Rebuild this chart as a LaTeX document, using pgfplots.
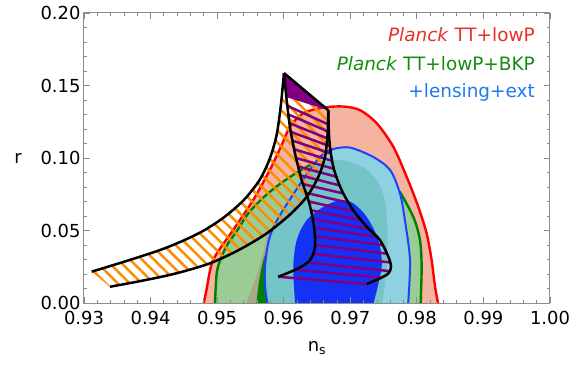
\documentclass[border=0pt]{standalone}
\usepackage{fontspec}
\setmainfont{DejaVu Sans}
\usepackage{pgfplots}
\pgfplotsset{compat=1.18}
\usetikzlibrary{patterns.meta}
\definecolor{salmon}{HTML}{F4B4A0}
\definecolor{lgreen}{HTML}{9BCC96}
\definecolor{greybrown}{HTML}{A8A888}
\definecolor{dgreen}{HTML}{008000}
\definecolor{lblue}{HTML}{8ED2E2}
\definecolor{teal2}{HTML}{74C4C8}
\definecolor{dblue}{HTML}{1432F5}
\definecolor{cred}{HTML}{FF0000}
\definecolor{cgreen}{HTML}{008000}
\definecolor{cblue}{HTML}{2040FF}
\definecolor{hpurple}{HTML}{800080}
\definecolor{horange}{HTML}{FF8C00}
\definecolor{framegrey}{HTML}{8C8C8C}
\definecolor{legred}{HTML}{E63228}
\definecolor{leggreen}{HTML}{148C14}
\definecolor{legblue}{HTML}{1E78F0}

\begin{document}
\begin{tikzpicture}
\path[use as bounding box] (-84bp,-67bp) rectangle (498bp,303bp);
\begin{axis}[
  scale only axis, width=466bp, height=290bp,
  xmin=0.93, xmax=1.00, ymin=0, ymax=0.20,
  xtick={0.93,0.94,0.95,0.96,0.97,0.98,0.99,1.00},
  xticklabels={0.93,0.94,0.95,0.96,0.97,0.98,0.99,1.00},
  ytick={0,0.05,0.10,0.15,0.20},
  yticklabels={0.00,0.05,0.10,0.15,0.20},
  minor x tick num=4, minor y tick num=4,
  tick align=inside, major tick length=6bp, minor tick length=3bp,
  every tick/.style={framegrey, line width=0.8bp},
  axis line style={framegrey, line width=1bp},
  tick label style={font=\fontsize{18}{20}\selectfont, text=black},
  xticklabel style={yshift=-5bp},
  xlabel={n\textsubscript{s}}, ylabel={r},
  every axis x label/.style={at={(axis description cs:0.5,-0.155)}, anchor=center,
    font=\fontsize{18}{20}\selectfont},
  every axis y label/.style={at={(axis description cs:-0.1416,0.5)}, anchor=center,
    font=\fontsize{18}{20}\selectfont},
  axis on top, no markers, unbounded coords=jump,
]
% Planck TT+lowP, 95%
\addplot[fill=salmon, draw=none, smooth] coordinates {
  (0.9480,0) (0.9484,0.009) (0.9494,0.0296) (0.9524,0.0503) (0.9554,0.0709)
  (0.9579,0.0916) (0.9596,0.108) (0.9610,0.122) (0.9630,0.131) (0.9660,0.1348)
  (0.9690,0.1355) (0.9715,0.1329) (0.9740,0.1238) (0.97647,0.1077) (0.97847,0.0870)
  (0.98022,0.0663) (0.98147,0.0480) (0.98222,0.0296) (0.98273,0.0113) (0.98318,0)};
% +BKP, 95%
\addplot[fill=lgreen, draw=none, smooth] coordinates {
  (0.94968,0) (0.94993,0.0204) (0.9505,0.030) (0.9515,0.040) (0.9530,0.050)
  (0.9547,0.062) (0.9570,0.073) (0.9594,0.082) (0.9620,0.090) (0.9645,0.0965)
  (0.9689,0.0985) (0.9725,0.094) (0.9755,0.0824) (0.97797,0.0755) (0.97947,0.0594)
  (0.98047,0.0434) (0.98072,0.025) (0.98057,0)};
% TT+lowP, 68%
\addplot[fill=greybrown, draw=none, smooth] coordinates {
  (0.9544,0) (0.9552,0.010) (0.9560,0.020) (0.9569,0.034) (0.9580,0.050)
  (0.9620,0.060) (0.9650,0.060) (0.9650,0)};
% +BKP, 68%
\addplot[fill=dgreen, draw=none, smooth] coordinates {
  (0.9559,0) (0.9563,0.015) (0.9568,0.027) (0.9575,0.037) (0.9590,0.050)
  (0.9630,0.055) (0.9650,0.040) (0.9650,0)};
% +lensing+ext, 95%
\addplot[fill=lblue, draw=none, smooth] coordinates {
  (0.95754,0) (0.9572,0.012) (0.9572,0.025) (0.9575,0.037) (0.9580,0.047)
  (0.9591,0.058) (0.9608,0.0705) (0.96245,0.082) (0.9645,0.0955) (0.9660,0.1030)
  (0.96745,0.1062) (0.96996,0.1072) (0.97346,0.1007) (0.9760,0.0916) (0.97747,0.0755)
  (0.9782,0.0572) (0.97897,0.0296) (0.9787,0)};
\addplot[fill=teal2, draw=none, smooth] coordinates {
  (0.95754,0) (0.9572,0.012) (0.9572,0.025) (0.9575,0.037) (0.9580,0.047)
  (0.9591,0.058) (0.9608,0.0705) (0.96245,0.082) (0.9640,0.092) (0.9665,0.0975)
  (0.9689,0.0985) (0.9722,0.093) (0.9742,0.083) (0.9752,0.070) (0.9756,0.050)
  (0.9755,0.025) (0.9748,0)};
% +lensing+ext, 68%
\addplot[fill=dblue, draw=none, smooth] coordinates {
  (0.96170,0) (0.96144,0.025) (0.96195,0.0434) (0.96345,0.0572) (0.96595,0.0663)
  (0.96846,0.0709) (0.97046,0.0687) (0.97247,0.0594) (0.97421,0.0434)
  (0.97472,0.025) (0.9735,0)};
% contour lines
\addplot[cred, line width=2.4bp, smooth] coordinates {
  (0.9480,0) (0.9484,0.009) (0.9494,0.0296) (0.9524,0.0503) (0.9554,0.0709)
  (0.9579,0.0916) (0.9596,0.108) (0.9610,0.122) (0.9630,0.131) (0.9660,0.1348)
  (0.9690,0.1355) (0.9715,0.1329) (0.9740,0.1238) (0.97647,0.1077) (0.97847,0.0870)
  (0.98022,0.0663) (0.98147,0.0480) (0.98222,0.0296) (0.98273,0.0113) (0.98318,0)};
\addplot[cgreen, line width=2.4bp, smooth] coordinates {
  (0.94968,0) (0.94993,0.0204) (0.9505,0.030) (0.9515,0.040) (0.9530,0.050)
  (0.9547,0.062) (0.9570,0.073) (0.9594,0.082) (0.9620,0.090) (0.9645,0.0965)};
\addplot[cgreen, line width=2.4bp, smooth] coordinates {
  (0.9774,0.0770) (0.97947,0.0594) (0.98047,0.0434) (0.98072,0.025) (0.98057,0)};
\addplot[cblue, line width=2bp, smooth] coordinates {
  (0.95754,0) (0.9572,0.012) (0.9572,0.025) (0.9575,0.037) (0.9580,0.047)
  (0.9591,0.058) (0.9608,0.0705) (0.96245,0.082) (0.9645,0.0955) (0.9660,0.1030)
  (0.96745,0.1062) (0.96996,0.1072) (0.97346,0.1007) (0.9760,0.0916) (0.97747,0.0755)
  (0.9782,0.0572) (0.97897,0.0296) (0.9787,0)};
% orange hatched band
\addplot[draw=none, pattern={Lines[angle=-45,distance=8.5bp,line width=2.5bp]},
  pattern color=horange] coordinates {
  (0.93115,0.0216) (0.9364,0.0290) (0.9414,0.0365) (0.9450,0.0432) (0.9480,0.0500)
  (0.9510,0.0590) (0.9540,0.0710) (0.9564,0.0850) (0.95794,0.1000) (0.95894,0.1160)
  (0.95954,0.1352) (0.95984,0.1490) (0.96004,0.1586)
  (0.96670,0.1329) (0.96660,0.1169) (0.96620,0.1007) (0.96520,0.0870) (0.96345,0.0732)
  (0.96094,0.0610) (0.95744,0.0480) (0.95343,0.0370) (0.9490,0.0275) (0.9439,0.0205)
  (0.9389,0.0155) (0.9339,0.0112)};
% purple hatched region
\addplot[fill=hpurple, draw=none] coordinates {
  (0.96004,0.1586) (0.96670,0.1329) (0.96040,0.1420) (0.96025,0.1500)};
\addplot[hpurple, line width=2.5bp] coordinates {
  (0.96055,0.136) (0.96677,0.123) (nan,nan)
  (0.96071,0.130) (0.96681,0.118) (nan,nan)
  (0.96087,0.124) (0.96685,0.113) (nan,nan)
  (0.96108,0.118) (0.96699,0.108) (nan,nan)
  (0.96133,0.112) (0.96715,0.103) (nan,nan)
  (0.96158,0.106) (0.96732,0.098) (nan,nan)
  (0.96187,0.100) (0.96756,0.0925) (nan,nan)
  (0.96220,0.094) (0.96799,0.087) (nan,nan)
  (0.96252,0.088) (0.96846,0.081) (nan,nan)
  (0.96289,0.082) (0.96900,0.0755) (nan,nan)
  (0.96333,0.076) (0.96983,0.069) (nan,nan)
  (0.96376,0.070) (0.97064,0.063) (nan,nan)
  (0.96405,0.064) (0.97169,0.057) (nan,nan)
  (0.96432,0.058) (0.97282,0.051) (nan,nan)
  (0.96456,0.052) (0.97401,0.0455) (nan,nan)
  (0.96462,0.046) (0.97483,0.040) (nan,nan)
  (0.96469,0.040) (0.97549,0.034) (nan,nan)
  (0.96431,0.034) (0.97595,0.028) (nan,nan)
  (0.96346,0.028) (0.97586,0.022) (nan,nan)
  (0.96172,0.023) (0.97464,0.0175) (nan,nan)
  (0.95919,0.0181) (0.97247,0.0131)};
% black edges
\addplot[black, line width=2.5bp, smooth] coordinates {
  (0.93115,0.0216) (0.9364,0.0290) (0.9414,0.0365) (0.9450,0.0432) (0.9480,0.0500)
  (0.9510,0.0590) (0.9540,0.0710) (0.9564,0.0850) (0.95794,0.1000) (0.95894,0.1160)
  (0.95954,0.1352) (0.95984,0.1490) (0.96004,0.1586)};
\addplot[black, line width=2.5bp, smooth] coordinates {
  (0.9339,0.0112) (0.9389,0.0155) (0.9439,0.0205) (0.9490,0.0275) (0.95343,0.0370)
  (0.95744,0.0480) (0.96094,0.0610) (0.96345,0.0732) (0.96520,0.0870) (0.96620,0.1007)
  (0.96660,0.1169) (0.96670,0.1329)};
\addplot[black, line width=2.5bp] coordinates {(0.96004,0.1586) (0.96670,0.1329)};
\addplot[black, line width=2.5bp, smooth] coordinates {
  (0.96004,0.1586) (0.96045,0.1398) (0.96094,0.1214) (0.96170,0.1031) (0.96270,0.0847)
  (0.96385,0.0687) (0.96455,0.0526) (0.96470,0.0388) (0.96395,0.0296) (0.96219,0.0239)
  (0.95919,0.0181)};
\addplot[black, line width=2.5bp, smooth] coordinates {
  (0.96670,0.1329) (0.96685,0.1123) (0.96745,0.0939) (0.96871,0.0778) (0.97046,0.0640)
  (0.97247,0.0526) (0.97446,0.0434) (0.97572,0.0319) (0.97612,0.0250) (0.97572,0.0204)
  (0.97446,0.0170) (0.97247,0.0131)};
% legend text
\node[anchor=base east, text=legred, font=\fontsize{18.5}{22}\selectfont]
  at (axis cs:0.99824,0.180) {\textit{Planck} TT+lowP};
\node[anchor=base east, text=leggreen, font=\fontsize{18.5}{22}\selectfont]
  at (axis cs:0.99824,0.1605) {\textit{Planck} TT+lowP+BKP};
\node[anchor=base east, text=legblue, font=\fontsize{18.5}{22}\selectfont]
  at (axis cs:0.99824,0.1417) {+lensing+ext};
\end{axis}
\end{tikzpicture}
\end{document}
